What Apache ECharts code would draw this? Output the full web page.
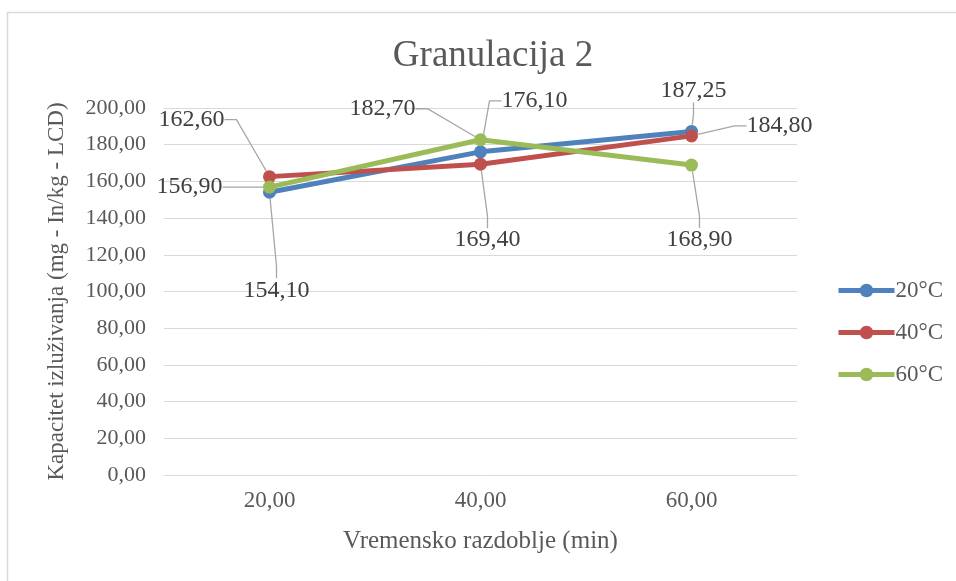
<!DOCTYPE html>
<html>
<head>
<meta charset="utf-8">
<script src="https://cdn.jsdelivr.net/npm/echarts@6/dist/echarts.min.js"></script>
<style>
html,body{margin:0;padding:0;background:#fff;}
#chart{width:956px;height:581px;}
</style>
</head>
<body>
<div id="chart"></div>
<script>
const categories = ['20,00', '40,00', '60,00'];
const seriesNames = ['20°C', '40°C', '60°C'];
const values20 = [154.10, 176.10, 187.25];
const values40 = [162.60, 169.40, 184.80];
const values60 = [156.90, 182.70, 168.90];
const colors = ['#4F81BD', '#C0504D', '#9BBB59'];
// label offsets (dx, dy) from each point, pixels
const offsets20 = [[7, 98], [54, -51], [2, -41]];
const offsets40 = [[-78, -57], [7, 76], [88, -10]];
const offsets60 = [[-80, 0], [-98, -31], [8, 75]];

const FONT = "'Liberation Serif', 'Times New Roman', serif";
const fmt = v => v.toFixed(2).replace('.', ',');

function makeSeries(name, data, color, offs) {
  return {
    name: name,
    type: 'line',
    data: data,
    symbol: 'circle',
    symbolSize: 13,
    lineStyle: { width: 5, color: color },
    itemStyle: { color: color },
    label: {
      show: true,
      position: 'inside',
      formatter: p => fmt(p.value),
      fontFamily: FONT,
      fontSize: 24,
      color: '#404040'
    },
    labelLine: { show: true, length2: 12, lineStyle: { color: '#a6a6a6', width: 1.3 } },
    labelLayout: function (params) {
      const o = offs[params.dataIndex];
      return { dx: o[0], dy: o[1] };
    },
    emphasis: { disabled: true },
    animation: false
  };
}

const chart = echarts.init(document.getElementById('chart'), null, { renderer: 'canvas' });
chart.setOption({
  backgroundColor: '#fff',
  animation: false,
  textStyle: { fontFamily: FONT },
  title: {
    text: 'Granulacija 2',
    left: 488,
    textAlign: 'center',
    top: 33,
    textStyle: { fontFamily: FONT, fontSize: 37, fontWeight: 'normal', color: '#595959' }
  },
  graphic: [{
    type: 'rect',
    shape: { x: 7.5, y: 12.5, width: 1200, height: 1200 },
    style: { fill: 'none', stroke: '#d9d9d9', lineWidth: 1.5 },
    silent: true
  }],
  legend: {
    orient: 'vertical',
    left: 836,
    top: 279,
    padding: 0,
    itemWidth: 56,
    itemHeight: 17,
    itemGap: 19,
    lineStyle: { width: 5 },
    data: seriesNames,
    textStyle: { fontFamily: FONT, fontSize: 23, color: '#595959', padding: [0, 0, 0, -4] }
  },
  grid: { left: 164, right: 159, top: 108, bottom: 106 },
  xAxis: {
    type: 'category',
    data: categories,
    boundaryGap: true,
    name: 'Vremensko razdoblje (min)',
    nameLocation: 'middle',
    nameGap: 54,
    nameTextStyle: { fontFamily: FONT, fontSize: 25, color: '#595959', verticalAlign: 'top' },
    axisLine: { show: true, lineStyle: { color: '#d9d9d9', width: 1 } },
    axisTick: { show: false },
    axisLabel: { fontFamily: FONT, fontSize: 23, color: '#595959', margin: 14 }
  },
  yAxis: {
    type: 'value',
    min: 0,
    max: 200,
    interval: 20,
    name: 'Kapacitet izluživanja (mg - In/kg - LCD)',
    nameLocation: 'middle',
    nameGap: 96,
    nameTextStyle: { fontFamily: FONT, fontSize: 23, color: '#595959' },
    axisLine: { show: false },
    axisTick: { show: false },
    splitLine: { lineStyle: { color: '#d9d9d9', width: 1 } },
    axisLabel: { fontFamily: FONT, fontSize: 22, color: '#595959', margin: 18, formatter: v => fmt(v) }
  },
  series: [
    makeSeries(seriesNames[0], values20, colors[0], offsets20),
    makeSeries(seriesNames[1], values40, colors[1], offsets40),
    makeSeries(seriesNames[2], values60, colors[2], offsets60)
  ]
});
</script>
</body>
</html>
